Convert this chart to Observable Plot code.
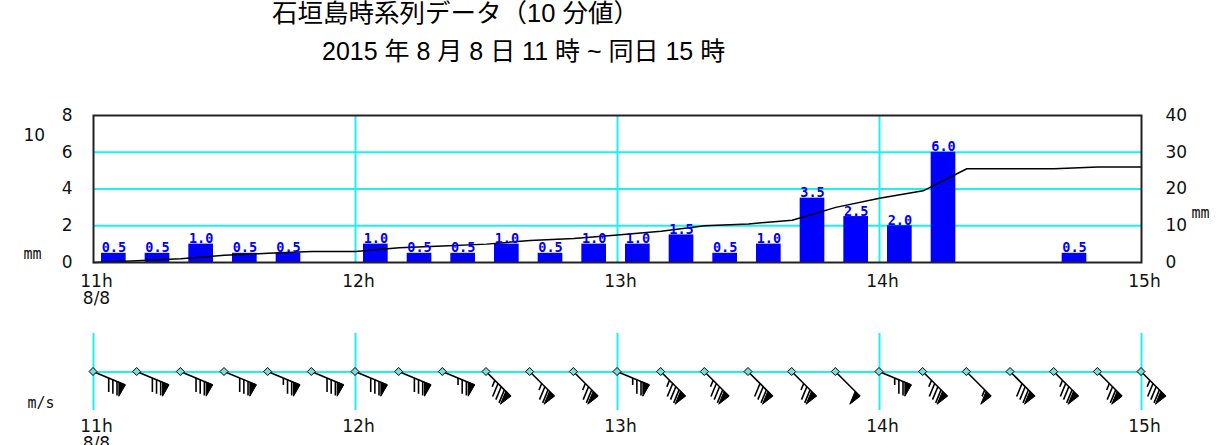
<!DOCTYPE html>
<html><head><meta charset="utf-8">
<script src="https://cdn.jsdelivr.net/npm/d3@7"></script>
<script src="https://cdn.jsdelivr.net/npm/@observablehq/plot@0.6"></script>
<style>
html,body{margin:0;padding:0;background:#fff;}
#page{position:relative;width:1229px;height:445px;overflow:hidden;font-family:"Liberation Sans","Noto Sans CJK JP",sans-serif;color:#000;}
#title{position:absolute;left:272px;top:0px;font-size:25.5px;line-height:26px;white-space:nowrap;}
#subtitle{position:absolute;left:322px;top:39px;font-size:25px;line-height:25px;white-space:nowrap;}
#rain{position:absolute;left:0;top:95px;}
#wind{position:absolute;left:0;top:320px;}
</style></head>
<body><div id="page">
<div id="title">石垣島時系列データ（10 分値）</div>
<div id="subtitle">2015 年 8 月 8 日 11 時 ~ 同日 15 時</div>
<div id="rain"></div><div id="wind"></div>
</div>
<script>
// ---- data ----
const slotStarts = ["11:00","11:10","11:20","11:30","11:40","11:50","12:00","12:10","12:20","12:30","12:40","12:50","13:00","13:10","13:20","13:30","13:40","13:50","14:00","14:10","14:20","14:30","14:40","14:50"];
const slotEnds   = ["11:10","11:20","11:30","11:40","11:50","12:00","12:10","12:20","12:30","12:40","12:50","13:00","13:10","13:20","13:30","13:40","13:50","14:00","14:10","14:20","14:30","14:40","14:50","15:00"];
const rain10min = [0.5,0.5,1.0,0.5,0.5,0,1.0,0.5,0.5,1.0,0.5,1.0,1.0,1.5,0.5,1.0,3.5,2.5,2.0,6.0,0,0,0.5,0];
const cumTimes = ["11:00","11:10","11:20","11:30","11:40","11:50","12:00","12:10","12:20","12:30","12:40","12:50","13:00","13:10","13:20","13:30","13:40","13:50","14:00","14:10","14:20","14:30","14:40","14:50","15:00"];
const rainCumulative = [0,0.5,1.0,2.0,2.5,3.0,3.0,4.0,4.5,5.0,6.0,6.5,7.5,8.5,10.0,10.5,11.5,15.0,17.5,19.5,25.5,25.5,25.5,26.0,26.0];
const windTimes = cumTimes;
const windDir = ["ESE","ESE","ESE","ESE","ESE","ESE","ESE","ESE","ESE","SE","SE","SE","ESE","SE","SE","SE","SE","SE","ESE","SE","SE","SE","SE","SE","SE"];
const windSpeed = [16,16,16,16,15,16,16,16,15,17,15,15,15,17,17,16,15,10,15,17,11,16,17,15,17];
const hourTicks = ["11:00","12:00","13:00","14:00","15:00"];
const hourLabels = ["11h\n8/8","12h","13h","14h","15h"];
const rainTicks = [0,2,4,6,8];
const cumTicks = [0,10,20,30,40];
const cumTickLabels = ["0","10","20","30","40"];
const rainGrid = [2,4,6];
const innerHours = ["12:00","13:00","14:00"];
const compass = ["N","NNE","NE","ENE","E","ESE","SE","SSE","S","SSW","SW","WSW","W","WNW","NW","NNW"];

// ---- helpers ----
const T = s => { const [h,m] = s.split(":").map(Number); return new Date(2015,7,8,h,m); };
const rainMax = 8, cumMax = 40, ratio = cumMax / rainMax;
const xDomain = [T("11:00"), T("15:00")];
const labelMap = new Map(hourTicks.map((t,i) => [+T(t), hourLabels[i]]));
const cumLabelMap = new Map(cumTicks.map((v,i) => [v / ratio, cumTickLabels[i]]));
const CYAN = "#1ef0f0";

const bars = slotStarts.map((s,i) => ({start: T(s), end: T(slotEnds[i]), mid: new Date((+T(s) + +T(slotEnds[i]))/2), v: rain10min[i]})).filter(d => d.v > 0);
const cum = cumTimes.map((t,i) => ({t: T(t), c: rainCumulative[i]}));

const rain = Plot.plot({
  width: 1229, height: 225,
  marginLeft: 93, marginRight: 88, marginTop: 20, marginBottom: 58,
  style: {fontFamily: "DejaVu Sans", fontSize: "17px", background: "transparent", overflow: "visible", color: "#111"},
  x: {type: "utc", domain: xDomain, label: null},
  y: {domain: [0, rainMax], label: null},
  marks: [
    Plot.ruleY(rainGrid, {stroke: CYAN, strokeWidth: 2}),
    Plot.ruleX(innerHours.map(T), {stroke: CYAN, strokeWidth: 2}),
    Plot.rectY(bars, {x1: "start", x2: "end", y: "v", fill: "#0000ff", insetLeft: 8, insetRight: 11}),
    Plot.line(cum, {x: "t", y: d => d.c / ratio, stroke: "#000", strokeWidth: 1.5}),
    Plot.text(bars, {x: "mid", y: "v", text: d => d.v.toFixed(1), dx: -1.5, dy: -1, lineAnchor: "bottom", fill: "#0000ff", fontFamily: "DejaVu Sans Mono", fontWeight: "bold", fontSize: 13.5}),
    Plot.frame({stroke: "#222", strokeWidth: 2}),
    Plot.axisY(rainTicks, {anchor: "left", label: null, tickSize: 0, tickPadding: 21, tickFormat: d => String(d)}),
    Plot.axisY(cumTicks.map(v => v / ratio), {anchor: "right", label: null, tickSize: 0, tickPadding: 24, tickFormat: d => cumLabelMap.get(d)}),
    Plot.axisX(hourTicks.map(T), {anchor: "bottom", label: null, tickSize: 0, tickPadding: 12, dx: 3, tickFormat: d => labelMap.get(+d)}),
    Plot.text(["10"], {frameAnchor: "top-left", dx: -70, dy: 13}),
    Plot.text(["mm"], {frameAnchor: "top-left", dx: -70, dy: 133, fontFamily: "DejaVu Sans Mono", fontSize: 15}),
    Plot.text(["mm"], {frameAnchor: "top-right", dx: 68, dy: 92, fontFamily: "DejaVu Sans Mono", fontSize: 15})
  ]
});
document.getElementById("rain").appendChild(rain);

// ---- wind barbs ----
const shaftLen = 35, penW = 7, barbLen = 14, spacing = 4.5, featherTurn = 67.5 * Math.PI / 180, windBaseline = 0.5;
function drawBarbs(index, scales) {
  const g = d3.create("svg:g").attr("stroke", "#000").attr("fill", "none");
  const cy = scales.y(windBaseline);
  windTimes.forEach((t, i) => {
    const cx = scales.x(T(t));
    const th = compass.indexOf(windDir[i]) * 22.5 * Math.PI / 180;
    const ux = Math.sin(th), uy = -Math.cos(th);
    const fa = Math.atan2(uy, ux) + featherTurn;
    const fx = Math.cos(fa), fy = Math.sin(fa);
    const P = s => [cx + ux * s, cy + uy * s];
    const [ex, ey] = P(shaftLen);
    g.append("line").attr("x1", cx).attr("y1", cy).attr("x2", ex).attr("y2", ey).attr("stroke-width", 1.6);
    let s = windSpeed[i];
    const nPen = Math.floor(s / 10); s -= nPen * 10;
    const nLong = Math.floor(s / 2); const nShort = s - nLong * 2;
    let pos = shaftLen;
    for (let k = 0; k < nPen; k++) {
      const [ax, ay] = P(pos), [bx, by] = P(pos - penW);
      g.append("path").attr("d", `M${ax},${ay}L${bx},${by}L${bx + fx * barbLen},${by + fy * barbLen}Z`).attr("fill", "#000").attr("stroke-width", 1);
      pos -= penW + 2;
    }
    for (let k = 0; k < nLong; k++) {
      const [ax, ay] = P(pos);
      g.append("line").attr("x1", ax).attr("y1", ay).attr("x2", ax + fx * barbLen).attr("y2", ay + fy * barbLen).attr("stroke-width", 1.6);
      pos -= spacing;
    }
    for (let k = 0; k < nShort; k++) {
      const [ax, ay] = P(pos);
      g.append("line").attr("x1", ax).attr("y1", ay).attr("x2", ax + fx * barbLen / 2).attr("y2", ay + fy * barbLen / 2).attr("stroke-width", 1.6);
      pos -= spacing;
    }
    const r = 4;
    g.append("path").attr("d", `M${cx},${cy - r}L${cx + r},${cy}L${cx},${cy + r}L${cx - r},${cy}Z`).attr("fill", "#7dd").attr("stroke-width", 1);
  });
  return g.node();
}

const wind = Plot.plot({
  width: 1229, height: 125,
  marginLeft: 93, marginRight: 88, marginTop: 13, marginBottom: 35,
  style: {fontFamily: "DejaVu Sans", fontSize: "17px", background: "transparent", overflow: "visible", color: "#111"},
  x: {type: "utc", domain: xDomain, label: null},
  y: {domain: [0, 1], axis: null},
  marks: [
    Plot.ruleX(hourTicks.map(T), {stroke: CYAN, strokeWidth: 2}),
    Plot.ruleY([windBaseline], {stroke: CYAN, strokeWidth: 2}),
    drawBarbs,
    Plot.axisX(hourTicks.map(T), {anchor: "bottom", label: null, tickSize: 0, tickPadding: 9, dx: 3, tickFormat: d => labelMap.get(+d)}),
    Plot.text(["m/s"], {frameAnchor: "top-left", dx: -66, dy: 64, fontFamily: "DejaVu Sans Mono", fontSize: 15})
  ]
});
document.getElementById("wind").appendChild(wind);
</script>
</body></html>
